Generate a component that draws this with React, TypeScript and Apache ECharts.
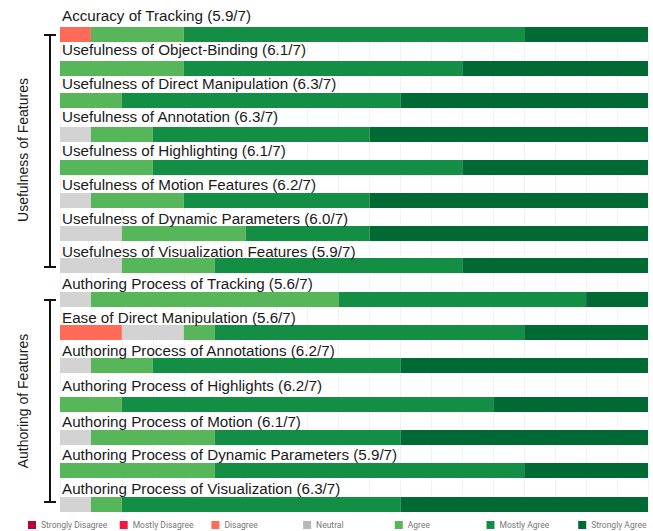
import React, { useEffect, useRef } from "react";
import * as echarts from "echarts";

const titles = [
  "Accuracy of Tracking (5.9/7)",
  "Usefulness of Object-Binding (6.1/7)",
  "Usefulness of Direct Manipulation (6.3/7)",
  "Usefulness of Annotation (6.3/7)",
  "Usefulness of Highlighting (6.1/7)",
  "Usefulness of Motion Features (6.2/7)",
  "Usefulness of Dynamic Parameters (6.0/7)",
  "Usefulness of Visualization Features (5.9/7)",
  "Authoring Process of Tracking (5.6/7)",
  "Ease of Direct Manipulation (5.6/7)",
  "Authoring Process of Annotations (6.2/7)",
  "Authoring Process of Highlights (6.2/7)",
  "Authoring Process of Motion (6.1/7)",
  "Authoring Process of Dynamic Parameters (5.9/7)",
  "Authoring Process of Visualization (6.3/7)",
];

const segmentNames = [
  "Strongly Disagree",
  "Mostly Disagree",
  "Disagree",
  "Neutral",
  "Agree",
  "Mostly Agree",
  "Strongly Agree",
];

const stronglyDisagree = [0, 0, 0, 0, 0, 0, 0, 0, 0, 0, 0, 0, 0, 0, 0];
const mostlyDisagree = [0, 0, 0, 0, 0, 0, 0, 0, 0, 0, 0, 0, 0, 0, 0];
const disagree = [1, 0, 0, 0, 0, 0, 0, 0, 0, 2, 0, 0, 0, 0, 0];
const neutral = [0, 0, 0, 1, 0, 1, 2, 2, 1, 2, 1, 0, 1, 0, 1];
const agree = [3, 4, 2, 2, 3, 3, 4, 3, 8, 1, 2, 2, 4, 5, 1];
const mostlyAgree = [11, 9, 9, 7, 10, 6, 4, 8, 8, 10, 8, 12, 6, 10, 9];
const stronglyAgree = [4, 6, 8, 9, 6, 9, 9, 6, 2, 4, 8, 5, 8, 4, 8];

const participants = 19;

const groupLabels = ["Usefulness of Features", "Authoring of Features"];

// layout constants
const barTops = [27, 61, 93, 127, 160, 193, 226, 258, 292, 325, 358, 397, 430, 463, 497];
const titleBaselines = [20.7, 54.3, 88.3, 121.7, 155.7, 189.3, 223.3, 256.7, 289, 322.3, 355.7, 390.3, 426.7, 460, 493.3];
const colors = ["#bd0036", "#f4163e", "#ff6b58", "#d3d3d3", "#57b65a", "#148e44", "#006a35"];

export default function App() {
  const ref = useRef<HTMLDivElement>(null);
  useEffect(() => {
    if (!ref.current) return;
    const chart = echarts.init(ref.current, undefined, { renderer: "svg" });
    const values = [stronglyDisagree, mostlyDisagree, disagree, neutral, agree, mostlyAgree, stronglyAgree];
    const barLeft = 60;
    const barWidth = 588;
    const barH = 15;

    const grid: any[] = [];
    const xAxis: any[] = [];
    const yAxis: any[] = [];
    const series: any[] = [];

    // background grid with faint vertical lines
    grid.push({ left: barLeft, width: barWidth, top: 27, height: 485 });
    xAxis.push({
      gridIndex: 0, type: "value", min: 0, max: participants, interval: 1,
      axisLabel: { show: false }, axisLine: { show: false }, axisTick: { show: false },
      splitLine: { show: true, lineStyle: { color: "#f2f2f2", width: 1 } },
    });
    yAxis.push({ gridIndex: 0, type: "value", min: 0, max: 1, show: false, splitLine: { show: false } });

    titles.forEach((t, i) => {
      const gi = i + 1;
      grid.push({ left: barLeft, width: barWidth, top: barTops[i], height: barH });
      xAxis.push({ gridIndex: gi, type: "value", min: 0, max: participants, show: false, splitLine: { show: false } });
      yAxis.push({ gridIndex: gi, type: "category", data: [t], show: false });
      segmentNames.forEach((name, s) => {
        series.push({
          type: "bar",
          name,
          xAxisIndex: gi,
          yAxisIndex: gi,
          stack: "s" + gi,
          barWidth: barH,
          itemStyle: { color: colors[s] },
          data: [values[s][i]],
          silent: true,
        });
      });
    });

    const graphics: any[] = [];
    titles.forEach((t, i) => {
      graphics.push({
        type: "text",
        x: 62,
        y: titleBaselines[i] - 5.3,
        z: 100,
        style: {
          text: t,
          font: '15.2px "Liberation Sans", Arial, sans-serif',
          fill: "#1a1a1a",
          align: "left",
          verticalAlign: "middle",
        },
      });
    });

    const brackets = [
      { top: 35, bottom: 267, labelY: 150 },
      { top: 300, bottom: 502, labelY: 401 },
    ];
    brackets.forEach((b, k) => {
      graphics.push({ type: "line", z: 100, shape: { x1: 50, y1: b.top, x2: 50, y2: b.bottom }, style: { stroke: "#111", lineWidth: 2 } });
      graphics.push({ type: "line", z: 100, shape: { x1: 44, y1: b.top, x2: 56, y2: b.top }, style: { stroke: "#111", lineWidth: 2 } });
      graphics.push({ type: "line", z: 100, shape: { x1: 44, y1: b.bottom, x2: 56, y2: b.bottom }, style: { stroke: "#111", lineWidth: 2 } });
      graphics.push({
        type: "text",
        x: 23,
        y: b.labelY,
        z: 100,
        rotation: Math.PI / 2,
        style: {
          text: groupLabels[k],
          font: '14px "Liberation Sans", Arial, sans-serif',
          fill: "#1a1a1a",
          align: "center",
          verticalAlign: "middle",
        },
      });
    });

    chart.setOption({
      animation: false,
      grid,
      xAxis,
      yAxis,
      series,
      legend: {
        left: 28,
        top: 520,
        width: 660,
        padding: 0,
        itemWidth: 8,
        itemHeight: 8,
        itemGap: 8.7,
        icon: "rect",
        selectedMode: false,
        data: segmentNames.map((n) => (n === "Neutral" ? { name: n, itemStyle: { color: "#b8b8b8" } } : { name: n })),
        textStyle: { width: 70, fontSize: 8.5, lineHeight: 10, color: "#777", fontFamily: "Roboto, sans-serif", overflow: "truncate" },
      },
      graphic: graphics,
    });
    return () => chart.dispose();
  }, []);
  return <div ref={ref} style={{ position: "absolute", left: 0, top: 0, width: 653, height: 531 }} />;
}
